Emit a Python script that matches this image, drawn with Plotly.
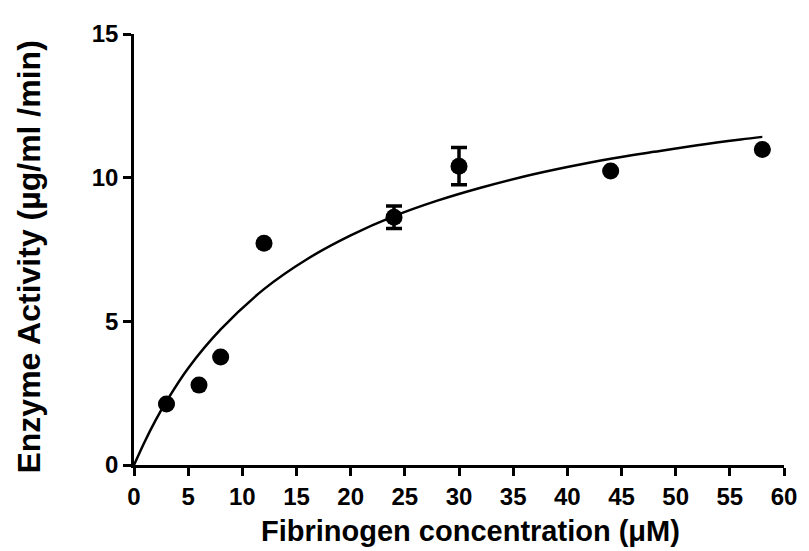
import plotly.graph_objects as go

# Measured data points
conc = [3, 6, 8, 12, 24, 30, 44, 58]
activity = [2.12, 2.78, 3.76, 7.72, 8.62, 10.4, 10.23, 10.98]
err = [0, 0, 0, 0, 0.39, 0.65, 0, 0]

# Fitted curve
curve_x = [0, 1, 2, 3, 5, 8, 12, 16, 20, 24, 28, 32, 36, 40, 44, 48, 52, 56, 58]
curve_y = [0, 0.82, 1.56, 2.22, 3.37, 4.72, 6.12, 7.17, 7.99, 8.66, 9.2, 9.65,
           10.04, 10.37, 10.66, 10.9, 11.13, 11.33, 11.42]

x_ticks = list(range(0, 61, 5))
y_ticks = [0, 5, 10, 15]

x_title = "Fibrinogen concentration (μM)"
y_title = "Enzyme Activity (µg/ml /min)"

fig = go.Figure()
fig.add_trace(go.Scatter(
    x=curve_x, y=curve_y, mode="lines", line=dict(color="black", width=2.5, shape="spline"),
    hoverinfo="skip", showlegend=False,
))
fig.add_trace(go.Scatter(
    x=conc, y=activity, mode="markers",
    marker=dict(color="black", size=17),
    error_y=dict(type="data", array=err, visible=True, color="black", thickness=3.5, width=8),
    showlegend=False, cliponaxis=False,
))

font_family = "Liberation Sans, Arial, sans-serif"
fig.update_layout(
    width=801, height=543,
    margin=dict(l=126, r=16, t=16, b=86),
    plot_bgcolor="white", paper_bgcolor="white",
    font=dict(family=font_family, color="black"),
    xaxis=dict(
        range=[0, 60], tickvals=x_ticks, ticktext=[str(v) for v in x_ticks],
        showgrid=False, zeroline=False, showline=True, linecolor="black", linewidth=2.5,
        ticks="outside", ticklen=8, tickwidth=2.5, tickcolor="black",
        tickfont=dict(size=24, family=font_family, weight="bold"),
    ),
    yaxis=dict(
        range=[0, 15], tickvals=y_ticks, ticktext=[str(v) for v in y_ticks],
        showgrid=False, zeroline=False, showline=True, linecolor="black", linewidth=2.5,
        ticks="outside", ticklen=8, tickwidth=2.5, tickcolor="black",
        tickfont=dict(size=24, family=font_family, weight="bold"),
    ),
    annotations=[
        dict(text=x_title, xref="paper", yref="paper", x=0.518, y=-0.152,
             xanchor="center", yanchor="middle", showarrow=False,
             font=dict(size=29, family=font_family, weight="bold")),
        dict(text=y_title, xref="paper", yref="paper", x=-0.162, y=0.483,
             xanchor="center", yanchor="middle", textangle=-90, showarrow=False,
             font=dict(size=32, family=font_family, weight="bold")),
    ],
)

fig.write_html("out.html")
